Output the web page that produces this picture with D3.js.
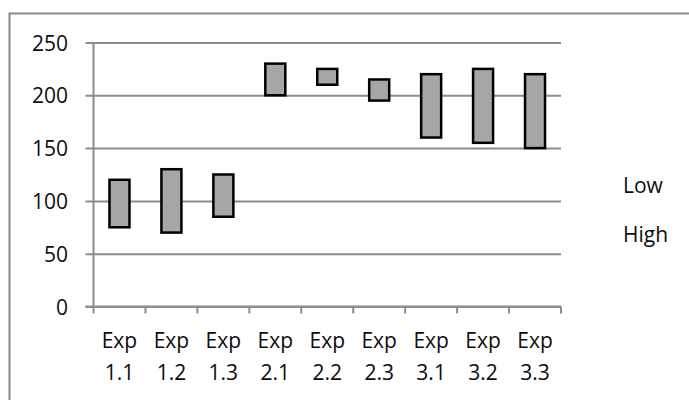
<!DOCTYPE html>
<html>
<head>
<meta charset="utf-8">
<script src="https://cdn.jsdelivr.net/npm/d3@7"></script>
<style>
  html, body { margin: 0; padding: 0; background: #fff; }
  svg { display: block; }
  text { font-family: "Open Sans", "Liberation Sans", sans-serif; fill: #0d0d0d; }
</style>
</head>
<body>
<svg id="chart" width="689" height="400"></svg>
<script>
// Experiment ranges: each bar spans from the Low to the High value
const categories = ["Exp 1.1", "Exp 1.2", "Exp 1.3", "Exp 2.1", "Exp 2.2", "Exp 2.3", "Exp 3.1", "Exp 3.2", "Exp 3.3"];
const lowValues  = [75, 70, 85, 200, 210, 195, 160, 155, 150];
const highValues = [120, 130, 125, 230, 225, 215, 220, 225, 220];
const yTicks = [0, 50, 100, 150, 200, 250];
const seriesNames = ["Low", "High"];

const svg = d3.select("#chart");
const W = 689, H = 400;
const plot = { left: 93.5, right: 561, top: 42.5, bottom: 306.5 };
const fontSize = 21;
const gridColor = "#8c8c8c";

// chart frame
svg.append("rect")
  .attr("x", 9.5).attr("y", 13.5)
  .attr("width", W + 10).attr("height", H + 10)
  .attr("fill", "none")
  .attr("stroke", "#878787")
  .attr("stroke-width", 2);

const x = d3.scaleBand().domain(categories).range([plot.left, plot.right]).padding(0);
const y = d3.scaleLinear().domain([0, 250]).range([plot.bottom, plot.top]);

// horizontal gridlines with outward ticks, labels on the left
const yAxis = d3.axisLeft(y).tickValues(yTicks).tickSize(0).tickFormat(d3.format("d"));
const gy = svg.append("g").attr("transform", `translate(${plot.left},0)`).call(yAxis);
gy.select(".domain").remove();
gy.selectAll(".tick line")
  .attr("x1", -8).attr("x2", plot.right - plot.left)
  .attr("stroke", gridColor).attr("stroke-width", 2);
gy.selectAll(".tick text")
  .attr("x", -25.5)
  .attr("dy", "0.36em")
  .style("font-size", fontSize + "px")
  .style("font-family", "'Open Sans', sans-serif")
  .attr("fill", "#0d0d0d");

// vertical axis line
svg.append("line")
  .attr("x1", plot.left).attr("x2", plot.left)
  .attr("y1", plot.top).attr("y2", plot.bottom)
  .attr("stroke", gridColor).attr("stroke-width", 2);

// category axis: tick marks on band edges
const edges = categories.map(c => x(c)).concat([plot.right]);
const gx = svg.append("g");
gx.append("line")
  .attr("x1", plot.left - 8).attr("x2", plot.right)
  .attr("y1", plot.bottom).attr("y2", plot.bottom)
  .attr("stroke", gridColor).attr("stroke-width", 2);
gx.selectAll("line.tick").data(edges).enter().append("line")
  .attr("class", "tick")
  .attr("x1", d => d).attr("x2", d => d)
  .attr("y1", plot.bottom).attr("y2", plot.bottom + 7)
  .attr("stroke", gridColor).attr("stroke-width", 2);

// two-line category labels
const lbl = gx.selectAll("text.cat").data(categories).enter().append("text")
  .attr("class", "cat")
  .attr("text-anchor", "middle")
  .style("font-size", fontSize + "px");
lbl.append("tspan")
  .attr("x", d => x(d) + x.bandwidth() / 2)
  .attr("y", 348)
  .text(d => d.split(" ")[0]);
lbl.append("tspan")
  .attr("x", d => x(d) + x.bandwidth() / 2)
  .attr("y", 380)
  .text(d => d.split(" ")[1]);

// range bars
const barW = 20;
svg.append("g").selectAll("rect").data(categories).enter().append("rect")
  .attr("x", d => x(d) + x.bandwidth() / 2 - barW / 2)
  .attr("y", (d, i) => y(highValues[i]))
  .attr("width", barW)
  .attr("height", (d, i) => y(lowValues[i]) - y(highValues[i]))
  .attr("fill", "#a6a6a6")
  .attr("stroke", "#000")
  .attr("stroke-width", 2.5);

// legend (text only)
svg.append("g").selectAll("text").data(seriesNames).enter().append("text")
  .attr("x", 623)
  .attr("y", (d, i) => 193 + i * 49)
  .style("font-size", fontSize + "px")
  .text(d => d);
</script>
</body>
</html>
